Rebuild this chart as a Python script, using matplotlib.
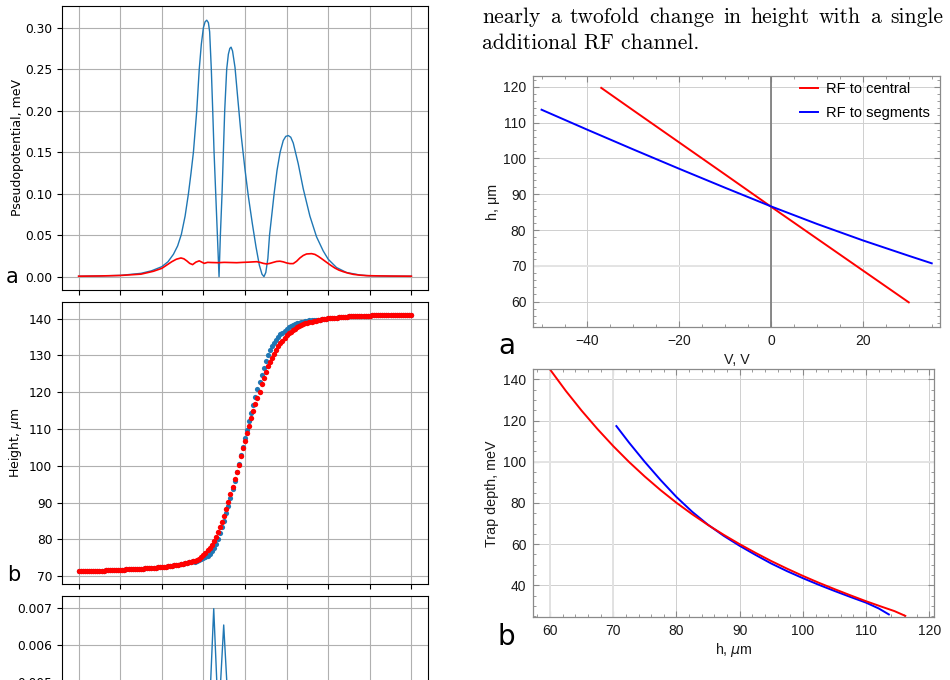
import numpy as np
import matplotlib
matplotlib.use("Agg")
from matplotlib import pyplot as plt
from matplotlib.ticker import MultipleLocator

# ---------------- left column ----------------
# (a) pseudopotential along the transport axis
pp_blue_x = [0.0, 0.5, 1.0, 1.5, 1.75, 2.0, 2.15, 2.28, 2.38, 2.47,
             2.56, 2.64, 2.70, 2.76, 2.84, 2.90, 2.95, 3.00, 3.04, 3.08,
             3.12, 3.15, 3.19, 3.224, 3.256, 3.296, 3.336, 3.376, 3.408, 3.448,
             3.48, 3.512, 3.56, 3.60, 3.635, 3.665, 3.70, 3.76, 3.824, 3.904,
             4.00, 4.08, 4.176, 4.264, 4.344, 4.408, 4.456, 4.50, 4.55, 4.59,
             4.65, 4.70, 4.77, 4.845, 4.92, 4.98, 5.04, 5.10, 5.16, 5.28,
             5.40, 5.56, 5.72, 5.88, 6.00, 6.20, 6.44, 6.76, 7.00, 7.50, 8.00]
pp_blue_y = [0.0005, 0.0008, 0.0015, 0.004, 0.007, 0.012, 0.018, 0.027, 0.037, 0.051,
             0.073, 0.100, 0.124, 0.150, 0.200, 0.250, 0.280, 0.300, 0.307, 0.309,
             0.306, 0.295, 0.250, 0.200, 0.150, 0.100, 0.050, 0.000, 0.050, 0.100,
             0.150, 0.200, 0.250, 0.268, 0.275, 0.2765, 0.272, 0.252, 0.216, 0.172,
             0.129, 0.097, 0.064, 0.036, 0.014, 0.003, 0.000, 0.005, 0.022, 0.050,
             0.077, 0.100, 0.128, 0.150, 0.164, 0.169, 0.170, 0.168, 0.161, 0.136,
             0.106, 0.073, 0.048, 0.031, 0.021, 0.011, 0.005, 0.002, 0.001, 0.0006, 0.0005]
pp_red_x = [0.0, 0.5, 1.0, 1.5, 1.8, 2.0, 2.12, 2.24, 2.35, 2.46,
            2.53, 2.60, 2.67, 2.74, 2.82, 2.90, 2.96, 3.02, 3.10, 3.20,
            3.35, 3.50, 3.65, 3.80, 3.95, 4.10, 4.20, 4.28, 4.36, 4.44,
            4.52, 4.60, 4.68, 4.76, 4.84, 4.92, 5.00, 5.08, 5.16, 5.24,
            5.32, 5.40, 5.48, 5.60, 5.68, 5.76, 5.86, 5.96, 6.06, 6.16,
            6.26, 6.36, 6.48, 6.60, 6.76, 6.92, 7.20, 7.50, 8.00]
pp_red_y = [0.0005, 0.0008, 0.0014, 0.003, 0.0065, 0.010, 0.014, 0.018, 0.021, 0.0225,
            0.0215, 0.019, 0.016, 0.0145, 0.0175, 0.019, 0.0175, 0.016, 0.0172, 0.017,
            0.0168, 0.0172, 0.0170, 0.0168, 0.0172, 0.0175, 0.0178, 0.018, 0.0172, 0.016,
            0.0153, 0.016, 0.0172, 0.0183, 0.0186, 0.0178, 0.0165, 0.0157, 0.0157, 0.0185,
            0.0225, 0.0255, 0.0273, 0.0277, 0.0268, 0.0245, 0.021, 0.0173, 0.0137, 0.0104,
            0.0078, 0.006, 0.0042, 0.0028, 0.0018, 0.0012, 0.0009, 0.0007, 0.0005]

# (b) ion height, one dot per sample position
height_x = np.linspace(0, 8, 161)
height_red = [71.35, 71.36, 71.38, 71.39, 71.40, 71.42, 71.43, 71.45, 71.47, 71.48, 71.50,
              71.52, 71.55, 71.57, 71.60, 71.62, 71.65, 71.67, 71.70, 71.72, 71.75,
              71.78, 71.81, 71.84, 71.87, 71.90, 71.93, 71.96, 71.99, 72.02, 72.05,
              72.09, 72.13, 72.17, 72.22, 72.27, 72.32, 72.37, 72.42, 72.46, 72.50,
              72.57, 72.64, 72.71, 72.79, 72.86, 72.94, 73.02, 73.10, 73.22, 73.35,
              73.47, 73.60, 73.75, 73.90, 74.05, 74.20, 74.48, 74.80, 75.25, 75.80,
              76.45, 77.10, 77.80, 78.60, 79.60, 80.80, 82.00, 83.30, 84.75, 86.50,
              88.40, 90.30, 92.30, 94.30, 96.30, 98.30, 100.3, 102.6, 104.8, 106.8,
              108.8, 110.7, 112.9, 115.0, 116.7, 118.4, 120.2, 122.2, 124.0, 125.6,
              127.0, 128.3, 129.4, 130.5, 131.5, 132.5, 133.3, 134.0, 134.8, 135.5,
              136.0, 136.5, 136.9, 137.3, 137.6, 137.9, 138.2, 138.5, 138.7, 138.9,
              139.05, 139.2, 139.35, 139.45, 139.6, 139.7, 139.8, 139.9, 140.0, 140.1,
              140.15, 140.2, 140.25, 140.3, 140.35, 140.4, 140.45, 140.5, 140.55, 140.6,
              140.62, 140.65, 140.67, 140.7, 140.72, 140.75, 140.78, 140.8, 140.83, 140.85,
              140.87, 140.88, 140.9, 140.91, 140.93, 140.94, 140.95, 140.97, 140.98, 141.0,
              141.01, 141.02, 141.03, 141.04, 141.05, 141.06, 141.07, 141.08, 141.09, 141.1]
# blue differs from red only between x=2.8 and x=6.0
height_blue_mid = [74.0, 74.2, 74.4, 74.6, 74.9,
                   75.2, 75.6, 76.1, 76.8, 77.7, 78.9, 80.2, 81.7, 83.3, 85.1,
                   87.1, 89.2, 91.4, 93.7, 96.0, 98.3, 100.6, 102.9, 105.2, 107.5,
                   109.8, 112.1, 114.4, 116.6, 118.8, 120.9, 122.9, 124.8, 126.7, 128.6,
                   130.2, 131.5, 132.6, 133.5, 134.3, 135.0, 135.7, 136.2, 136.7, 137.2,
                   137.6, 137.9, 138.2, 138.5, 138.7, 138.9, 139.05, 139.2, 139.3, 139.4,
                   139.5, 139.55, 139.6, 139.65, 139.7, 139.75, 139.82, 139.9, 140.0, 140.1]
height_blue = height_red[:56] + height_blue_mid + height_red[121:]

# (c) only the tops of two spikes are on the page
spike_x = [3.0, 3.176, 3.248, 3.32, 3.37, 3.416, 3.488, 3.56, 3.8]
spike_y = [0.002, 0.00505, 0.00697, 0.00505, 0.0040, 0.00505, 0.00653, 0.00505, 0.002]

# ---------------- right column ----------------
central_V = [-37, -30, -20, -10, 0, 10, 20, 30]
central_h = [119.7, 113.4, 104.45, 95.5, 86.5, 77.6, 68.7, 59.8]
segments_V = [-50, -40, -30, -20, -10, 0, 10, 20, 30, 35]
segments_h = [113.6, 108.0, 102.5, 97.1, 91.8, 86.6, 81.7, 77.1, 72.8, 70.7]

depth_central_h = [60, 62.5, 65, 67.5, 70, 72.5, 75, 77.5, 80, 82.5, 85, 87.5,
                   90, 92.5, 95, 97.5, 100, 102.5, 105, 107.5, 110, 112.5, 114.5, 116.2]
depth_central = [144.8, 134.4, 124.8, 115.9, 107.6, 99.9, 92.8, 86.2, 80.1, 74.5, 69.3, 64.5,
                 60.0, 55.8, 51.8, 48.1, 44.6, 41.3, 38.2, 35.2, 32.3, 29.6, 27.5, 25.2]
depth_segments_h = [70.5, 72.5, 75, 77.5, 80, 82.5, 85, 87.5, 90, 92.5,
                    95, 97.5, 100, 102.5, 105, 107.5, 110, 112, 113.6]
depth_segments = [117.3, 109.3, 99.9, 91.1, 82.9, 75.7, 69.4, 64.0, 59.2, 54.8,
                  50.6, 46.9, 43.5, 40.3, 37.3, 34.4, 31.6, 28.8, 25.9]

body_line1 = "nearly a twofold change in height with a single"
body_line2 = "additional RF channel."

W, H = 950, 680


def rect(left, top, right, bottom):
    return [left / W, 1 - bottom / H, (right - left) / W, (bottom - top) / H]


fig = plt.figure(figsize=(9.5, 6.8), dpi=100)

# ---- left panels (matplotlib look) ----
ax_a = fig.add_axes(rect(62, 6, 428, 290))
ax_b = fig.add_axes(rect(62, 301.7, 428, 584))
ax_c = fig.add_axes(rect(62, 595.7, 428, 880))

ax_a.plot(pp_blue_x, pp_blue_y, color="#1f77b4", lw=1.0)
ax_a.plot(pp_red_x, pp_red_y, color="red", lw=1.2)
ax_a.set_ylim(-0.0161, 0.3261)
ax_a.set_yticks([0.0, 0.05, 0.10, 0.15, 0.20, 0.25, 0.30])
ax_a.set_ylabel("Pseudopotential, meV", fontsize=9)

ax_b.set_axisbelow(True)
ax_b.scatter(height_x, height_blue, s=14, color="#1f77b4", linewidths=0)
ax_b.scatter(height_x, height_red, s=15, color="red", linewidths=0)
ax_b.set_ylim(67.9, 144.6)
ax_b.set_yticks(range(70, 141, 10))
ax_b.set_ylabel("Height, $\\mu$m", fontsize=9)

ax_c.plot(spike_x, spike_y, color="#1f77b4", lw=1.0)
ax_c.set_ylim(-0.00035, 0.00732)
ax_c.set_yticks([0.0, 0.001, 0.002, 0.003, 0.004, 0.005, 0.006, 0.007])

for ax in (ax_a, ax_b, ax_c):
    ax.set_xlim(-0.4, 8.4)
    ax.set_xticks(range(9))
    ax.tick_params(labelbottom=False, labelsize=8.8)
    ax.grid(True)
    ax.yaxis.set_label_coords(-0.104, 0.5)

fig.text(6 / W, 1 - 283 / H, "a", fontsize=15)
fig.text(7 / W, 1 - 580.7 / H, "b", fontsize=15)

# ---- right panels (Mathematica look) ----
frame_col = "#8a8a8a"


def mma_style(ax):
    for s in ax.spines.values():
        s.set_color(frame_col)
        s.set_linewidth(0.9)
    ax.tick_params(which="both", direction="in", top=True, right=True,
                   color=frame_col, labelsize=10, labelcolor="#1a1a1a",
                   labelfontfamily="Liberation Sans")
    ax.tick_params(which="major", length=4, width=0.8, pad=5)
    ax.tick_params(which="minor", length=2, width=0.6)
    ax.grid(True, which="major", color="#cfcfcf", lw=0.7)
    ax.set_axisbelow(True)


ax_ra = fig.add_axes(rect(533.3, 75.7, 940, 326.7))
mma_style(ax_ra)
ax_ra.axvline(0, color="#808080", lw=1.3, zorder=1.5)
ax_ra.axhline(70, color="#e4e4e4", lw=1.4, zorder=0.8)
ax_ra.plot(central_V, central_h, color="#ff0000", lw=1.4, label="RF to central")
ax_ra.plot(segments_V, segments_h, color="#0000ff", lw=1.4, label="RF to segments")
ax_ra.set_xlim(-51.8, 36.8)
ax_ra.set_ylim(53.0, 123.1)
ax_ra.xaxis.set_major_locator(MultipleLocator(20))
ax_ra.xaxis.set_minor_locator(MultipleLocator(5))
ax_ra.yaxis.set_major_locator(MultipleLocator(10))
ax_ra.yaxis.set_minor_locator(MultipleLocator(2))
ax_ra.set_yticks(range(60, 121, 10))
ax_ra.legend(loc="upper left", bbox_to_anchor=(800 / W, 1 - 82 / H),
             bbox_transform=fig.transFigure, frameon=False, borderpad=0,
             borderaxespad=0, handlelength=1.2, handletextpad=0.55,
             labelspacing=0.7, prop={"family": "Liberation Sans", "size": 10.5})

ax_rb = fig.add_axes(rect(533.3, 369, 934, 616.7))
mma_style(ax_rb)
for xv in (60, 70):
    ax_rb.axvline(xv, color="#e2e2e2", lw=1.4, zorder=0.8)
ax_rb.axhline(100, color="#e4e4e4", lw=1.4, zorder=0.8)
ax_rb.plot(depth_segments_h, depth_segments, color="#0000ff", lw=1.4)
ax_rb.plot(depth_central_h, depth_central, color="#ff0000", lw=1.4)
ax_rb.set_xlim(57.36, 120.74)
ax_rb.set_ylim(24.8, 145.0)
ax_rb.xaxis.set_major_locator(MultipleLocator(10))
ax_rb.xaxis.set_minor_locator(MultipleLocator(2))
ax_rb.yaxis.set_major_locator(MultipleLocator(20))
ax_rb.yaxis.set_minor_locator(MultipleLocator(5))
ax_rb.set_yticks(range(40, 141, 20))

lab = dict(family="Liberation Sans", fontsize=10.3, color="#1a1a1a",
           ha="center", va="center")
fig.text(493 / W, 1 - 201.5 / H, "h, \u03bcm", rotation=90, **lab)
fig.text(737 / W, 1 - 360 / H, "V, V", **lab)
fig.text(492.5 / W, 1 - 494 / H, "Trap depth, meV", rotation=90, **lab)
fig.text(733.5 / W, 1 - 650 / H, "h, $\\mu$m", **lab)

fig.text(498 / W, 1 - 354 / H, "a", fontsize=20)
fig.text(497 / W, 1 - 645 / H, "b", fontsize=20)

# ---- body text of the page, first line justified ----
body = dict(family="cmr10", fontsize=15.5, color="black")
fig.canvas.draw()
renderer = fig.canvas.get_renderer()
words = body_line1.split()
word_txt = [fig.text(0, 1 - 22.7 / H, w, **body) for w in words]
widths = [t.get_window_extent(renderer).width for t in word_txt]
gap = (943.3 - 482.3 - sum(widths)) / (len(words) - 1)
xpos = 482.3
for t, w in zip(word_txt, widths):
    t.set_x(xpos / W)
    xpos += w + gap
fig.text(482.3 / W, 1 - 49.3 / H, body_line2, **body)

fig.savefig("out.png", dpi=100)
